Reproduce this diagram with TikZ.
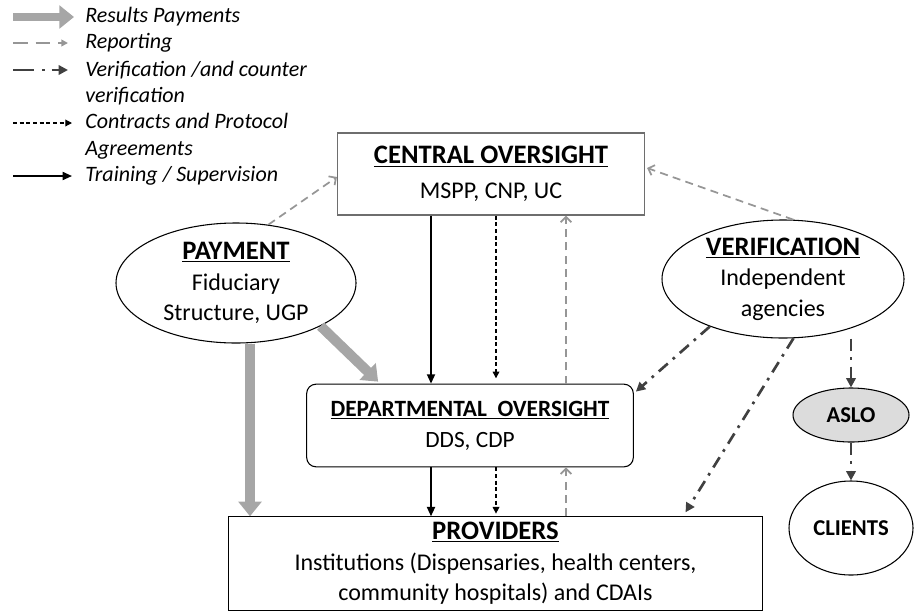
\documentclass[tikz,border=0pt]{standalone}
\usepackage{fontspec}
\setmainfont{Carlito}
\usetikzlibrary{shapes.geometric,arrows.meta,calc}

\definecolor{paygrey}{RGB}{166,166,166}
\definecolor{repgrey}{RGB}{150,150,150}
\definecolor{vergrey}{RGB}{64,64,64}
\definecolor{edgegrey}{RGB}{110,110,110}
\definecolor{asloshade}{RGB}{220,220,220}

\newcommand{\hdfont}{\fontsize{20}{24}\selectfont\bfseries}
\newcommand{\bdfont}{\fontsize{18}{23}\selectfont}
\newcommand{\dpfont}{\fontsize{17.5}{22}\selectfont}
\newcommand{\lgfont}{\fontsize{16.5}{20}\selectfont\itshape}

\tikzset{
  box/.style={draw, line width=0.8pt, align=center, inner sep=2pt, font=\bdfont},
  oval/.style={ellipse, draw, line width=0.8pt, align=center, inner sep=-12pt, font=\bdfont},
  payflow/.style={draw=paygrey, line width=7.5pt, -{Triangle[length=11pt,width=17pt]}},
  reporting/.style={draw=repgrey, line width=1.3pt, dash pattern=on 6pt off 4pt, -{Straight Barb[length=4pt,width=8pt]}},
  verifying/.style={draw=vergrey, line width=2pt, dash pattern=on 9pt off 5pt on 2pt off 5pt, -{Triangle[length=7pt,width=7pt]}},
  contract/.style={draw=black, line width=0.9pt, dash pattern=on 3pt off 2pt, -{Triangle[length=5pt,width=5pt]}},
  training/.style={draw=black, line width=1.3pt, -{Triangle[length=7pt,width=6pt]}},
  legtext/.style={font=\lgfont, anchor=west, align=left, inner sep=0pt},
}

\begin{document}
\begin{tikzpicture}[x=0.75pt,y=0.75pt,yscale=-1,xscale=1]
        \useasboundingbox (0,0) rectangle (916,611);

        % Legend
        \coordinate (lg1a) at (13,17);  \coordinate (lg1b) at (74,17);
        \coordinate (lg2a) at (13,43);  \coordinate (lg2b) at (68,43);
        \coordinate (lg3a) at (13,70);  \coordinate (lg3b) at (68,70);
        \coordinate (lg4a) at (13,123); \coordinate (lg4b) at (72,123);
        \coordinate (lg5a) at (13,176); \coordinate (lg5b) at (72,176);
        \draw[payflow, line width=6pt] (lg1a) -- (lg1b);
        \draw[reporting, dash pattern=on 11pt off 6pt, -{Triangle[length=5pt,width=5pt]}] (lg2a) -- (lg2b);
        \draw[verifying, dash pattern=on 16pt off 6pt on 2pt off 5pt] (lg3a) -- (lg3b);
        \draw[contract] (lg4a) -- (lg4b);
        \draw[training] (lg5a) -- (lg5b);
        \node[legtext] (lgpay) at (85,17) {Results Payments};
        \node[legtext] (lgrep) at (85,43) {Reporting};
        \node[legtext] (lgver) at (85,83) {Verification /and counter\\verification};
        \node[legtext] (lgcon) at (85,136) {Contracts and Protocol\\Agreements};
        \node[legtext] (lgtra) at (85,176) {Training / Supervision};

        % Boxes
        \node[box, draw=edgegrey, line width=1.1pt, minimum width=230pt, minimum height=61.5pt] (central) at (491,174)
            {{\hdfont\underline{CENTRAL OVERSIGHT}}\\[3pt]MSPP, CNP, UC};
        \node[box, rounded corners=7pt, font=\dpfont, minimum width=245pt, minimum height=62pt] (dept) at (470,425.5)
            {\textbf{\underline{DEPARTMENTAL\ \ OVERSIGHT}}\\[1pt]DDS, CDP};
        \node[box, minimum width=400pt, minimum height=70pt] (providers) at (495.5,563.5)
            {{\hdfont\underline{PROVIDERS}}\\Institutions (Dispensaries, health centers,\\community hospitals) and CDAIs};

        % Ellipses
        \node[oval, minimum width=180pt, minimum height=90pt] (payment) at (236,283)
            {{\hdfont\underline{PAYMENT}}\\Fiduciary\\Structure, UGP};
        \node[oval, minimum width=181.5pt, minimum height=88.5pt] (verification) at (783,279)
            {{\hdfont\underline{VERIFICATION}}\\Independent\\agencies};
        \node[oval, inner sep=0pt, fill=asloshade, font=\fontsize{17}{20}\selectfont\bfseries, minimum width=87pt, minimum height=40.5pt] (aslo) at (851,415) {ASLO};
        \node[oval, inner sep=0pt, font=\fontsize{17}{20}\selectfont\bfseries, minimum width=93pt, minimum height=70.5pt] (clients) at (851,528) {CLIENTS};

        % Results payments
        \draw[payflow] (payment.south -| 250,0) -- (providers.north -| 250,0);
        \draw[payflow] (payment.-27) -- ($(dept.north west)+(72,-2)$);

        % Reporting
        \draw[reporting] (payment.61) -- ($(central.west)+(0,3)$);
        \draw[reporting] (verification.80) -- ($(central.east)+(2,-6)$);
        \draw[reporting] (566,0 |- dept.north) -- (566,0 |- central.south);
        \draw[reporting] (566,0 |- providers.north) -- (566,0 |- dept.south);

        % Training / supervision
        \draw[training] (431,0 |- central.south) -- (431,0 |- dept.north);
        \draw[training] (431,0 |- dept.south) -- (431,0 |- providers.north);

        % Contracts
        \draw[contract, shorten >=4pt] (496,0 |- central.south) -- (496,0 |- dept.north);
        \draw[contract, shorten >=2pt] (496,0 |- dept.south) -- (496,0 |- providers.north);

        % Verification
        \draw[verifying] (verification.-147) -- ($(dept.north east)+(2,8)$);
        \draw[verifying] (verification.-80) -- ($(providers.north)+(190,-4)$);
        \draw[verifying] (aslo.north |- verification.south) -- (aslo.north);
        \draw[verifying] (aslo.south) -- (clients.north);

\end{tikzpicture}
\end{document}
